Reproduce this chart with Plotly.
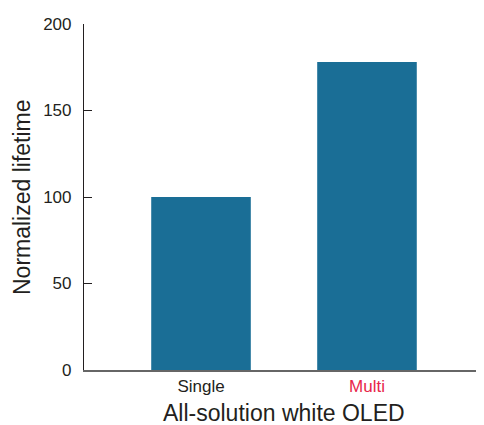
import plotly.graph_objects as go

categories = ["Single", "Multi"]
lifetime = [100, 178]
tick_colors = ["#231f20", "#e8264a"]
y_ticks = [0, 50, 100, 150, 200]

FONT = "Arial, Liberation Sans, sans-serif"
TXT = "#231f20"

fig = go.Figure(go.Bar(
    x=list(range(len(categories))), y=lifetime,
    marker=dict(color="#1a6e96", line=dict(width=0)),
    width=0.6,
))

fig.update_layout(
    width=476, height=417,
    margin=dict(l=76, r=0, t=16, b=55),
    plot_bgcolor="white", paper_bgcolor="white",
    showlegend=False,
    font=dict(family=FONT, color=TXT, size=17),
    xaxis=dict(
        range=[-0.705, 1.705],
        tickvals=list(range(len(categories))),
        ticktext=[f"<span style='color:{c}'>{t}</span>" for t, c in zip(categories, tick_colors)],
        showline=True, linecolor="#666666", linewidth=1.5,
        ticks="", showgrid=False, zeroline=False,
        tickfont=dict(size=17),
    ),
    yaxis=dict(
        range=[0, 200],
        tickvals=y_ticks,
        showline=True, linecolor="#231f20", linewidth=1.2,
        ticks="inside", ticklen=8, tickcolor="#231f20", tickwidth=1,
        showgrid=False, zeroline=False,
        ticklabelstandoff=8,
        tickfont=dict(size=17),
    ),
    annotations=[
        dict(text="All-solution white OLED", xref="paper", yref="paper",
             x=0.5, y=-0.124, xanchor="center", yanchor="middle",
             showarrow=False, font=dict(size=23, color=TXT)),
        dict(text="Normalized lifetime", xref="paper", yref="paper",
             x=-0.155, y=0.5, xanchor="center", yanchor="middle", textangle=-90,
             showarrow=False, font=dict(size=23, color=TXT)),
    ],
)

fig.write_html("out.html")
